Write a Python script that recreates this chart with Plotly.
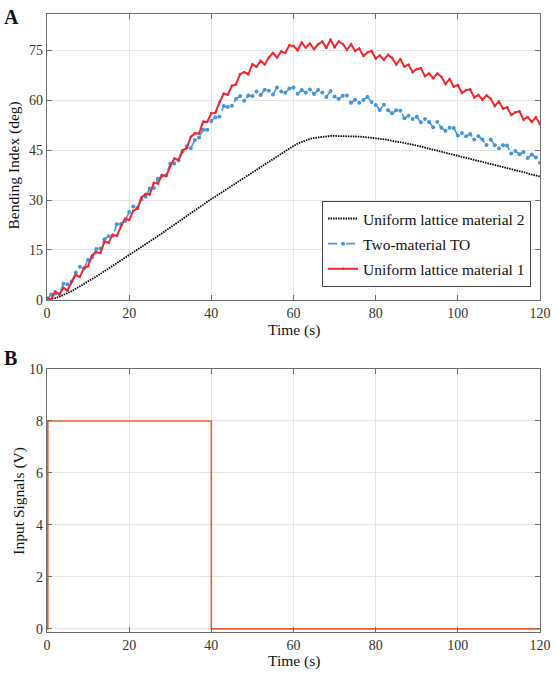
import plotly.graph_objects as go

# ---------------- data ----------------
time_s = list(range(0, 121))

mat2 = [0.0, 0.2, 0.5, 0.9, 1.4, 2.0, 2.6, 3.3, 4.0, 4.7, 5.5, 6.2, 7.0, 7.8, 8.6, 9.4, 10.2, 11.0, 11.8, 12.6,
        13.4, 14.2, 15.0, 15.8, 16.7, 17.5, 18.3, 19.2, 20.0, 20.9, 21.7, 22.6, 23.4, 24.3, 25.2, 26.0, 26.9, 27.8, 28.6, 29.5,
        30.3, 31.2, 32.0, 32.8, 33.7, 34.5, 35.3, 36.1, 36.9, 37.7, 38.5, 39.3, 40.1, 40.9, 41.7, 42.5, 43.3, 44.1, 44.8, 45.6,
        46.3, 47.0, 47.5, 48.0, 48.4, 48.7, 48.9, 49.1, 49.2, 49.3, 49.3, 49.3, 49.3, 49.3, 49.2, 49.2, 49.1, 49.0, 48.9, 48.8,
        48.6, 48.4, 48.3, 48.1, 47.9, 47.7, 47.5, 47.2, 47.0, 46.7, 46.4, 46.1, 45.8, 45.5, 45.2, 44.9, 44.6, 44.3, 44.0, 43.7,
        43.4, 43.1, 42.8, 42.5, 42.2, 41.9, 41.6, 41.3, 41.0, 40.6, 40.3, 40.0, 39.7, 39.4, 39.0, 38.7, 38.4, 38.0, 37.7, 37.4,
        37.1]

two_mat = [0.2, 1.6, 1.9, 1.7, 4.8, 4.7, 5.5, 8.2, 9.9, 9.4, 12.0, 12.8, 15.3, 15.4, 18.2, 19.1, 19.3, 22.7, 22.8, 23.7,
           26.4, 28.1, 27.6, 30.2, 31.0, 33.5, 33.6, 36.4, 37.3, 37.5, 40.9, 41.0, 41.9, 44.6, 46.2, 45.6, 48.1, 48.8, 51.2, 51.2,
           53.8, 54.9, 55.1, 58.3, 58.0, 58.4, 60.4, 61.3, 59.9, 61.5, 61.3, 62.7, 61.6, 63.2, 62.9, 61.8, 63.9, 62.7, 62.3, 63.6,
           63.9, 62.0, 63.1, 62.4, 63.3, 61.9, 63.1, 62.4, 61.0, 62.8, 61.2, 60.4, 61.4, 61.5, 59.3, 60.2, 59.3, 60.1, 61.0, 59.5,
           58.6, 57.1, 58.7, 57.0, 56.1, 57.0, 56.9, 54.6, 55.4, 54.4, 55.1, 53.4, 54.4, 53.5, 51.9, 53.5, 51.8, 50.9, 51.8, 51.7,
           49.4, 50.2, 49.2, 49.9, 48.2, 49.2, 48.2, 46.6, 48.2, 46.5, 45.6, 46.5, 46.4, 44.0, 44.8, 43.8, 44.5, 42.7, 43.7, 42.8,
           41.2]

mat1 = [0.6, 0.1, 2.5, 1.6, 3.6, 2.8, 5.4, 7.5, 6.9, 9.6, 10.1, 13.4, 14.3, 14.1, 17.5, 17.2, 19.6, 19.2, 22.1, 24.4,
        24.0, 26.8, 27.4, 30.8, 31.8, 31.7, 35.2, 35.0, 37.5, 37.2, 40.2, 42.5, 42.1, 45.0, 45.6, 49.0, 50.1, 50.0, 53.6, 53.5,
        56.1, 56.3, 59.5, 62.0, 61.7, 64.4, 64.8, 67.9, 68.5, 67.9, 70.9, 70.1, 71.9, 70.8, 72.9, 74.3, 72.9, 74.7, 74.3, 76.6,
        76.4, 75.1, 77.4, 75.9, 77.1, 75.4, 76.9, 77.7, 75.8, 78.3, 76.0, 77.7, 77.0, 75.2, 76.9, 74.9, 75.6, 73.4, 74.4, 74.9,
        72.6, 73.5, 72.2, 73.7, 72.8, 70.8, 72.4, 70.2, 70.7, 68.5, 69.4, 69.7, 67.3, 68.1, 66.7, 68.1, 67.1, 64.9, 66.4, 64.1,
        64.6, 62.2, 63.1, 63.3, 60.9, 61.6, 60.2, 61.5, 60.5, 58.3, 59.7, 57.5, 57.9, 55.6, 56.4, 56.7, 54.2, 55.0, 53.5, 54.9,
        52.8]

signal_t = [0, 0.2, 0.2, 40, 40, 120]
signal_v = [0, 0, 8, 8, 0, 0]

x_ticks = [0, 20, 40, 60, 80, 100, 120]
yA_ticks = [0, 15, 30, 45, 60, 75]
yB_ticks = [0, 2, 4, 6, 8, 10]

# ---------------- figure ----------------
FONT = "Liberation Serif"
AXC = "#6e6e6e"
GRID = "#e6e6e6"

fig = go.Figure()

fig.add_trace(go.Scatter(x=time_s, y=mat2, mode="lines", name="Uniform lattice material 2",
                         line=dict(color="black", width=1.8, dash="1.5px,1px"), legendgroup="a",
                         xaxis="x", yaxis="y"))
fig.add_trace(go.Scatter(x=time_s, y=two_mat, mode="lines+markers", name="Two-material TO",
                         line=dict(color="#4596d8", width=1.6, dash="dash"),
                         marker=dict(color="#4596d8", size=4), legendgroup="b",
                         xaxis="x", yaxis="y"))
fig.add_trace(go.Scatter(x=time_s, y=mat1, mode="lines+markers", name="Uniform lattice material 1",
                         line=dict(color="#f0282c", width=2), marker=dict(color="#f0282c", size=2.5),
                         legendgroup="c", xaxis="x", yaxis="y"))
fig.add_trace(go.Scatter(x=signal_t, y=signal_v, mode="lines", showlegend=False,
                         line=dict(color="#e8612f", width=1.6), xaxis="x2", yaxis="y2"))

axis_common = dict(showline=True, linecolor=AXC, linewidth=1.3, mirror="ticks", ticks="inside",
                   ticklen=5, tickcolor=AXC, showgrid=True, gridcolor=GRID, gridwidth=1,
                   zeroline=False, tickfont=dict(family=FONT, size=14, color="#333333"))

W, H = 558, 674
l, r, t, b = 47, 15, 7, 42
pw, ph = W - l - r, H - t - b

fig.update_layout(
    width=W, height=H,
    margin=dict(l=l, r=r, t=t, b=b),
    paper_bgcolor="white", plot_bgcolor="white",
    font=dict(family=FONT, size=14, color="#222222"),
    xaxis=dict(domain=[0, 1], range=[0, 120], tickvals=x_ticks, anchor="y", **axis_common),
    yaxis=dict(domain=[(H - b - 296) / ph, 1], range=[0, 86], tickvals=yA_ticks, anchor="x", **axis_common),
    xaxis2=dict(domain=[0, 1], range=[0, 120], tickvals=x_ticks, anchor="y2", **axis_common),
    yaxis2=dict(domain=[0, (H - b - 366) / ph], range=[-0.12, 10], tickvals=yB_ticks, anchor="x2", **axis_common),
    legend=dict(x=(534 - l) / pw, y=(H - b - 283) / ph, xanchor="right", yanchor="bottom",
                bgcolor="white", bordercolor="#444444", borderwidth=1,
                font=dict(family=FONT, size=15.5, color="#111111"),
                traceorder="grouped", tracegroupgap=2, itemwidth=30),
    showlegend=True,
)

annotations = [
    dict(text="<b>A</b>", x=2, y=10),
    dict(text="<b>B</b>", x=2, y=355),
    dict(text="Bending Index (deg)", x=14, y=160, textangle=-90),
    dict(text="Time (s)", x=295, y=327),
    dict(text="Input Signals (V)", x=19, y=499, textangle=-90),
    dict(text="Time (s)", x=295, y=661),
]
anns = []
for a in annotations:
    px, py = a["x"], a["y"]
    is_panel = a["text"].startswith("<b>")
    anns.append(dict(
        text=a["text"], showarrow=False, xref="paper", yref="paper",
        x=(px - l) / pw, y=(H - b - py) / ph,
        xanchor="left" if is_panel else "center", yanchor="middle",
        textangle=a.get("textangle", 0),
        font=dict(family=FONT, size=20 if is_panel else 15.5, color="#111111"),
    ))
fig.update_layout(annotations=anns)

fig.write_html("out.html", config={"displayModeBar": False},
               post_script="document.body.style.margin='0';document.body.style.overflow='hidden';")
